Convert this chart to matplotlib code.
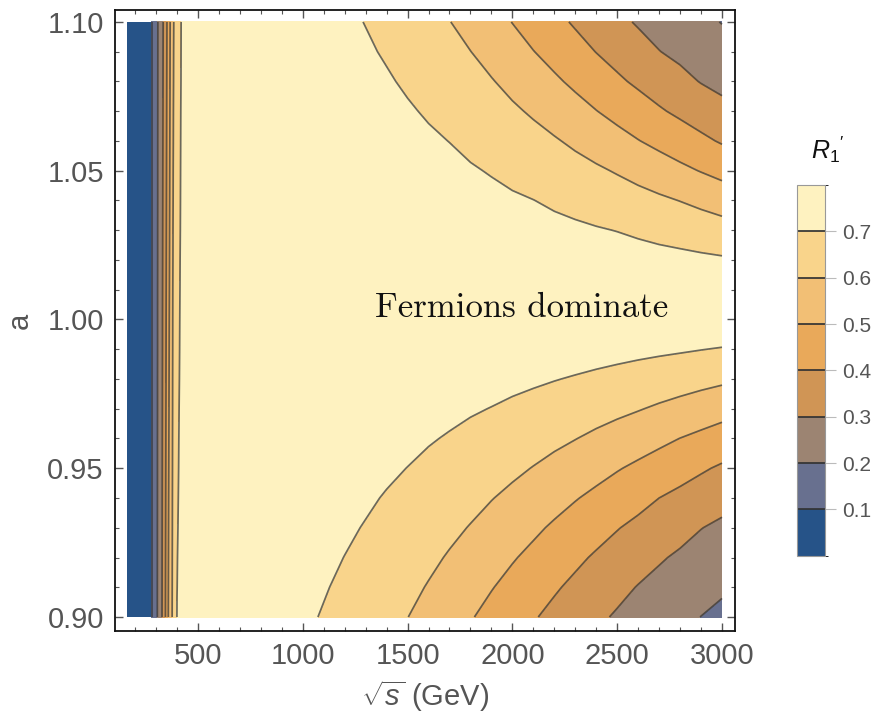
import numpy as np
import matplotlib
matplotlib.use("Agg")
import matplotlib.pyplot as plt
from matplotlib.colors import ListedColormap, BoundaryNorm
from matplotlib.cm import ScalarMappable
from matplotlib.ticker import MultipleLocator, FormatStrFormatter

plt.rcParams['font.family'] = ['Liberation Sans', 'DejaVu Sans']
plt.rcParams['mathtext.fontset'] = 'custom'
plt.rcParams['mathtext.rm'] = 'Liberation Sans'
plt.rcParams['mathtext.it'] = 'Liberation Sans:italic'

# rows of the grid: a = 0.90 ... 1.10
a_vals = [0.90, 0.91, 0.92, 0.93, 0.94, 0.95, 0.96, 0.97, 0.98, 0.99, 1.00,
          1.01, 1.02, 1.03, 1.04, 1.05, 1.06, 1.07, 1.08, 1.09, 1.10]

# threshold region, sqrt(s) in GeV; one list of R1' per sqrt(s), bottom to top in a
sqrt_s_low = [160, 270, 280, 300, 320, 340, 360, 380, 400, 420, 450, 500]
r1_low = [
    [0.0] * 21,
    [0.07] * 21,
    [0.101] * 21,
    [0.177, 0.177, 0.176, 0.176, 0.175, 0.175, 0.175, 0.174, 0.174, 0.173, 0.173, 0.173, 0.172, 0.172, 0.171, 0.171, 0.171, 0.170, 0.170, 0.169, 0.169],
    [0.252, 0.251, 0.251, 0.250, 0.250, 0.249, 0.249, 0.248, 0.248, 0.247, 0.247, 0.246, 0.245, 0.245, 0.244, 0.244, 0.243, 0.243, 0.242, 0.242, 0.241],
    [0.364, 0.362, 0.360, 0.358, 0.356, 0.354, 0.352, 0.350, 0.348, 0.346, 0.345, 0.343, 0.341, 0.339, 0.337, 0.335, 0.333, 0.331, 0.329, 0.327, 0.325],
    [0.511, 0.508, 0.505, 0.502, 0.499, 0.496, 0.493, 0.490, 0.487, 0.484, 0.481, 0.477, 0.474, 0.471, 0.468, 0.465, 0.462, 0.459, 0.456, 0.453, 0.450],
    [0.617, 0.615, 0.614, 0.612, 0.611, 0.609, 0.608, 0.606, 0.605, 0.603, 0.602, 0.600, 0.598, 0.597, 0.595, 0.594, 0.592, 0.591, 0.589, 0.588, 0.586],
    [0.702, 0.699, 0.697, 0.694, 0.691, 0.688, 0.686, 0.683, 0.680, 0.677, 0.675, 0.672, 0.669, 0.666, 0.663, 0.661, 0.658, 0.655, 0.652, 0.650, 0.647],
    [0.725, 0.724, 0.723, 0.721, 0.720, 0.719, 0.718, 0.717, 0.715, 0.714, 0.713, 0.712, 0.711, 0.709, 0.708, 0.707, 0.706, 0.705, 0.703, 0.702, 0.701],
    [0.745, 0.745, 0.744, 0.744, 0.743, 0.743, 0.742, 0.742, 0.741, 0.741, 0.740, 0.740, 0.739, 0.739, 0.738, 0.738, 0.737, 0.737, 0.736, 0.736, 0.735],
    [0.765, 0.765, 0.765, 0.764, 0.764, 0.764, 0.764, 0.763, 0.763, 0.763, 0.763, 0.762, 0.762, 0.762, 0.762, 0.761, 0.761, 0.761, 0.761, 0.760, 0.760],
]

# high-energy region
sqrt_s_high = [700, 850, 1000, 1100, 1200, 1300, 1400, 1500, 1600, 1700, 1800,
               1900, 2000, 2100, 2200, 2300, 2400, 2500, 2600, 2700, 2800, 2900, 3000]
r1_high = [
    [0.758, 0.762, 0.766, 0.770, 0.774, 0.778, 0.782, 0.786, 0.790, 0.794, 0.798, 0.798, 0.795, 0.792, 0.789, 0.786, 0.783, 0.780, 0.777, 0.774, 0.771],
    [0.737, 0.743, 0.749, 0.755, 0.761, 0.768, 0.774, 0.780, 0.786, 0.792, 0.798, 0.797, 0.793, 0.788, 0.784, 0.779, 0.775, 0.770, 0.766, 0.761, 0.757],
    [0.713, 0.722, 0.730, 0.738, 0.747, 0.755, 0.763, 0.772, 0.780, 0.788, 0.797, 0.796, 0.790, 0.784, 0.778, 0.771, 0.765, 0.759, 0.753, 0.746, 0.740],
    [0.695, 0.705, 0.715, 0.725, 0.736, 0.746, 0.756, 0.766, 0.776, 0.786, 0.796, 0.795, 0.788, 0.780, 0.773, 0.765, 0.758, 0.750, 0.743, 0.735, 0.727],
    [0.674, 0.687, 0.699, 0.711, 0.723, 0.735, 0.747, 0.759, 0.771, 0.783, 0.795, 0.795, 0.786, 0.777, 0.768, 0.759, 0.750, 0.741, 0.732, 0.723, 0.714],
    [0.651, 0.666, 0.681, 0.696, 0.710, 0.724, 0.738, 0.752, 0.766, 0.780, 0.794, 0.794, 0.783, 0.773, 0.762, 0.751, 0.741, 0.730, 0.720, 0.709, 0.698],
    [0.627, 0.644, 0.661, 0.678, 0.695, 0.712, 0.728, 0.745, 0.761, 0.777, 0.793, 0.793, 0.780, 0.768, 0.756, 0.744, 0.731, 0.719, 0.707, 0.693, 0.677],
    [0.601, 0.620, 0.640, 0.660, 0.679, 0.699, 0.718, 0.736, 0.755, 0.774, 0.793, 0.792, 0.778, 0.763, 0.749, 0.735, 0.721, 0.707, 0.691, 0.672, 0.653],
    [0.571, 0.595, 0.617, 0.640, 0.662, 0.684, 0.706, 0.728, 0.749, 0.770, 0.791, 0.790, 0.774, 0.758, 0.742, 0.726, 0.710, 0.693, 0.671, 0.650, 0.629],
    [0.540, 0.566, 0.593, 0.618, 0.643, 0.669, 0.694, 0.718, 0.742, 0.766, 0.790, 0.789, 0.771, 0.753, 0.735, 0.717, 0.699, 0.674, 0.650, 0.626, 0.602],
    [0.506, 0.536, 0.566, 0.596, 0.624, 0.652, 0.680, 0.708, 0.735, 0.762, 0.789, 0.788, 0.768, 0.747, 0.727, 0.707, 0.682, 0.655, 0.628, 0.601, 0.570],
    [0.474, 0.504, 0.537, 0.571, 0.603, 0.635, 0.666, 0.698, 0.728, 0.758, 0.788, 0.786, 0.764, 0.741, 0.719, 0.695, 0.665, 0.635, 0.605, 0.570, 0.535],
    [0.441, 0.474, 0.507, 0.544, 0.581, 0.617, 0.651, 0.686, 0.720, 0.753, 0.787, 0.785, 0.760, 0.735, 0.710, 0.680, 0.647, 0.613, 0.576, 0.537, 0.498],
    [0.407, 0.443, 0.479, 0.516, 0.557, 0.597, 0.636, 0.674, 0.712, 0.749, 0.785, 0.783, 0.756, 0.728, 0.701, 0.664, 0.628, 0.589, 0.546, 0.502, 0.462],
    [0.377, 0.410, 0.449, 0.488, 0.531, 0.576, 0.619, 0.661, 0.703, 0.744, 0.784, 0.782, 0.752, 0.721, 0.688, 0.648, 0.608, 0.561, 0.514, 0.469, 0.425],
    [0.348, 0.381, 0.418, 0.461, 0.505, 0.554, 0.602, 0.648, 0.694, 0.738, 0.782, 0.780, 0.747, 0.714, 0.675, 0.631, 0.584, 0.532, 0.482, 0.434, 0.389],
    [0.317, 0.353, 0.389, 0.433, 0.480, 0.530, 0.583, 0.634, 0.684, 0.733, 0.781, 0.778, 0.742, 0.706, 0.661, 0.613, 0.558, 0.502, 0.449, 0.398, 0.356],
    [0.290, 0.324, 0.364, 0.404, 0.454, 0.506, 0.563, 0.620, 0.674, 0.727, 0.779, 0.777, 0.738, 0.698, 0.646, 0.593, 0.531, 0.472, 0.415, 0.367, 0.322],
    [0.268, 0.296, 0.337, 0.379, 0.428, 0.483, 0.543, 0.605, 0.663, 0.721, 0.778, 0.775, 0.732, 0.687, 0.631, 0.570, 0.503, 0.442, 0.384, 0.335, 0.291],
    [0.245, 0.275, 0.309, 0.354, 0.400, 0.460, 0.521, 0.588, 0.652, 0.715, 0.776, 0.773, 0.727, 0.675, 0.615, 0.546, 0.476, 0.410, 0.355, 0.302, 0.269],
    [0.222, 0.254, 0.287, 0.329, 0.378, 0.435, 0.499, 0.571, 0.641, 0.709, 0.774, 0.771, 0.722, 0.664, 0.598, 0.521, 0.448, 0.382, 0.325, 0.280, 0.245],
    [0.199, 0.232, 0.267, 0.302, 0.355, 0.411, 0.479, 0.553, 0.629, 0.702, 0.772, 0.768, 0.716, 0.651, 0.578, 0.496, 0.419, 0.354, 0.296, 0.258, 0.220],
    [0.185, 0.209, 0.246, 0.283, 0.331, 0.388, 0.458, 0.535, 0.617, 0.695, 0.770, 0.766, 0.710, 0.638, 0.557, 0.471, 0.391, 0.326, 0.276, 0.235, 0.197],
]

levels = [0.0, 0.1, 0.2, 0.3, 0.4, 0.5, 0.6, 0.7, 0.8]
band_colors = ['#265388', '#68708f', '#9c8472', '#d09555',
               '#e9a95a', '#f2bf75', '#f9d48b', '#fef2c0']
cbar_ticks = [0.1, 0.2, 0.3, 0.4, 0.5, 0.6, 0.7]
line_color = '#333333'

S, A = np.meshgrid(sqrt_s_low + sqrt_s_high, a_vals)
R = np.array(r1_low + r1_high).T

fig = plt.figure(figsize=(8.73, 7.2), dpi=100)
ax = fig.add_axes([0.1317, 0.1236, 0.7102, 0.8625])

fill_levels = [-1.0] + levels[1:-1] + [2.0]
ax.contourf(S, A, R, levels=fill_levels, colors=band_colors)
ax.contour(S, A, R, levels=cbar_ticks, colors=line_color,
           linewidths=1.25, alpha=0.72)

ax.text(2042, 1.0008, 'Fermions dominate', family='cmr10', fontsize=25,
        ha='center', va='baseline', color='#111111')

ax.set_xlim(104, 3062)
ax.set_ylim(0.8953, 1.104)
ax.xaxis.set_major_locator(MultipleLocator(500))
ax.xaxis.set_minor_locator(MultipleLocator(100))
ax.yaxis.set_major_locator(MultipleLocator(0.05))
ax.yaxis.set_minor_locator(MultipleLocator(0.01))
ax.yaxis.set_major_formatter(FormatStrFormatter('%.2f'))
ax.tick_params(which='both', direction='in', top=True, right=True,
               color='#555555', labelcolor='#555555', labelsize=21)
ax.tick_params(which='major', length=6, width=1.0, pad=8)
ax.tick_params(which='minor', length=3, width=0.8)
for sp in ax.spines.values():
    sp.set_linewidth(1.3)
    sp.set_color('#111111')

ax.set_xlabel(r'$\sqrt{s}$ (GeV)', fontsize=21, color='#555555', labelpad=6)
ax.set_ylabel('a', fontsize=21, color='#555555', labelpad=10)

# legend bar for the contour bands
cax = fig.add_axes([0.913, 0.228, 0.032, 0.515])
sm = ScalarMappable(norm=BoundaryNorm(levels, len(band_colors)),
                    cmap=ListedColormap(band_colors))
cbar = fig.colorbar(sm, cax=cax, ticks=cbar_ticks)
cbar.add_lines(cbar_ticks, [line_color] * len(cbar_ticks), [1.25] * len(cbar_ticks))
cbar.outline.set_edgecolor('#999999')
cbar.outline.set_linewidth(0.8)
cax.tick_params(length=8, width=0.8, color='#bbbbbb', labelcolor='#555555',
                labelsize=15, pad=4)
fig.text(0.948, 0.792, r"$R_1{}^{\prime}$", ha='center', va='center',
         fontsize=18, color='#111111')

fig.savefig('out.png', dpi=100)
